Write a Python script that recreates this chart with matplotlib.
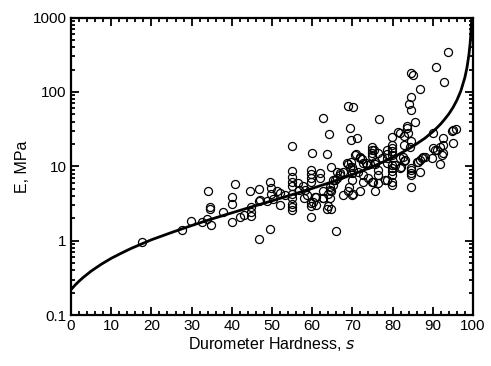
import matplotlib
matplotlib.use("Agg")
import matplotlib.pyplot as plt
from matplotlib.ticker import FixedLocator, FixedFormatter, MultipleLocator, LogLocator

plt.rcParams['font.family'] = ['Liberation Sans', 'DejaVu Sans']

hard = [17.7, 27.7, 29.9, 32.7, 33.8, 34.2, 34.7, 34.7, 34.8, 37.8, 40.0, 40.0, 40.7, 40.0, 42.0, 43.0,
        44.6, 44.8, 44.8, 44.8, 46.8, 46.8, 46.8, 48.7, 49.5, 49.8, 49.8, 49.5, 47.0, 50.2, 51.2, 52.0,
        52.0, 53.2,
        54.9, 54.9, 54.9, 54.9, 54.9, 54.9, 54.9, 54.9, 54.9, 55.1,
        56.5, 56.6, 57.8, 58.0, 58.2, 58.6,
        59.6, 59.6, 59.6, 59.6, 59.6, 59.6, 59.6, 59.9, 60.3, 60.7, 61.0, 61.0,
        61.9, 61.9, 62.6, 62.7, 62.7, 62.8, 63.6, 63.6,
        64.0, 64.4, 64.0, 64.8, 64.8, 64.3, 64.4, 64.5, 64.7, 65.3, 65.3, 65.7, 65.9, 66.1, 66.9, 66.9, 66.1,
        67.7, 67.7, 68.6, 69.0, 69.2, 69.4, 69.0, 69.8, 70.0, 70.0, 70.0, 69.6, 69.0, 70.2, 69.4, 69.6,
        71.2, 70.2, 70.2, 70.6, 70.9,
        71.9, 71.9, 71.9, 71.5, 72.3, 72.7, 72.7, 72.7, 73.6, 73.5, 74.0, 74.4,
        74.8, 74.8, 74.8, 74.8, 74.8, 75.2, 75.6, 75.6, 75.6, 75.5, 76.4, 76.4, 76.4, 76.4, 76.7,
        77.3, 78.1, 78.5, 78.5, 78.5, 78.5, 78.5,
        79.8, 79.8, 79.8, 79.8, 79.8, 79.8, 79.8, 79.8, 79.8, 79.8, 79.8,
        80.5, 81.4, 81.8, 81.8, 82.0, 82.8, 82.8, 82.8, 83.0, 83.7, 81.8, 82.7, 83.9, 83.5,
        84.7, 84.7, 84.7, 84.7, 84.7, 84.7, 84.7, 84.7, 84.2, 84.3, 84.5, 85.1, 85.6, 86.0, 86.8,
        86.8, 86.8, 87.6, 86.4, 87.2, 88.0,
        89.7, 90.0, 90.0, 90.5, 90.8, 91.0, 91.8, 91.8, 92.2, 92.6, 92.6, 92.7, 93.9, 95.0, 95.8,
        95.0, 94.7, 92.6]
modulus = [0.95, 1.39, 1.86, 1.77, 1.98, 4.65, 2.87, 2.64, 1.61, 2.41, 3.86, 3.14, 5.78, 1.80, 2.06, 2.24,
           4.7, 2.86, 2.41, 2.13, 1.05, 4.9, 3.45, 3.45, 6.2, 5.1, 4.2, 1.42, 3.5, 3.6, 4.6, 4.4,
           3.0, 4.1,
           8.6, 7.3, 6.2, 5.5, 4.3, 3.7, 3.1, 2.8, 2.6, 18.6,
           5.9, 4.8, 5.4, 3.8, 4.8, 4.1,
           8.9, 7.9, 6.9, 6.2, 3.2, 2.9, 2.1, 15.0, 3.35, 3.9, 3.0, 3.9,
           8.2, 6.9, 3.7, 3.8, 4.6, 45.0, 14.5, 2.7,
           4.3, 3.7, 2.9, 2.7, 9.9, 26.9, 4.8, 5.2, 4.7, 5.6, 6.5, 6.5, 1.35, 8.5, 8.2, 7.7, 6.9,
           4.1, 8.5, 11.1, 4.6, 5.3, 9.9, 10.8, 4.1, 6.5, 8.2, 9.9, 11.5, 65.0, 62.0, 32.4, 22.6,
           24.0, 8.9, 4.3, 14.2, 14.7,
           4.7, 12.9, 13.5, 8.5, 12.4, 6.2, 7.7, 11.1, 10.4, 11.0, 6.9, 10.6,
           18.2, 16.8, 15.2, 13.6, 6.2, 6.2, 4.6, 11.6, 10.8, 16.5, 15.0, 7.7, 8.9, 5.9, 43.6,
           12.9, 6.5, 6.5, 11.1, 16.5, 14.5, 13.0,
           19.3, 17.5, 15.9, 14.2, 10.4, 9.6, 8.7, 7.7, 6.2, 5.6, 25.0,
           10.5, 29.2, 9.6, 12.9, 9.9, 25.7, 19.3, 11.9, 12.2, 34.5, 28.0, 13.5, 28.0, 33.0,
           8.9, 8.2, 7.7, 5.3, 9.6, 21.9, 57.0, 84.5, 68.7, 18.2, 178.0, 169.0, 39.0, 11.5, 12.2,
           8.3, 108.0, 13.5, 11.5, 12.9, 13.5,
           12.9, 28.3, 17.5, 16.5, 218.0, 16.6, 10.8, 18.2, 14.2, 24.2, 19.3, 136.0, 347.0, 30.7, 31.4,
           20.9, 30.0, 15.0]

# model curve, values
curve_s = [0, 1, 2, 3, 5, 7.5, 10, 12.5, 15, 20, 25, 30, 35, 40, 45, 50, 55, 60, 65, 70, 75, 80,
           82.5, 85, 88, 90, 91, 92, 93, 94, 95, 96, 97, 98, 98.5, 99, 99.3, 99.45, 99.6, 99.72]
curve_E = [0.22, 0.253, 0.286, 0.32, 0.39, 0.482, 0.58, 0.68, 0.79, 1.03, 1.29, 1.60, 1.96, 2.37,
           2.86, 3.44, 4.16, 5.05, 6.2, 7.74, 9.9, 13.1, 15.5, 18.5, 23.8, 29.2, 32.9, 37.3, 43.2,
           50.7, 61.4, 77.5, 104, 158, 212, 319, 457, 580, 802, 1100]

y_ticks = [0.1, 1, 10, 100, 1000]
y_labels = ['0.1', '1', '10', '100', '1000']

fig = plt.figure(figsize=(4.91, 3.66), dpi=100)
ax = fig.add_axes([0.1446, 0.139, 0.8187, 0.813])

ax.plot(hard, modulus, 'o', mfc='none', mec='black', ms=5.8, mew=0.9)
ax.plot(curve_s, curve_E, '-', color='black', lw=2.0)

ax.set_yscale('log')
ax.set_xlim(0, 100)
ax.set_ylim(0.1, 1000)
ax.yaxis.set_major_locator(FixedLocator(y_ticks))
ax.yaxis.set_major_formatter(FixedFormatter(y_labels))
ax.yaxis.set_minor_locator(LogLocator(base=10, subs=range(2, 10)))
ax.xaxis.set_major_locator(MultipleLocator(10))
ax.xaxis.set_minor_locator(MultipleLocator(2))

ax.tick_params(which='both', direction='in', top=True, right=True, labelsize=11, width=1.3)
ax.tick_params(which='major', length=6, pad=3)
ax.tick_params(which='minor', length=3)
for sp in ax.spines.values():
    sp.set_linewidth(1.6)

ax.set_xlabel('Durometer Hardness, $\\it{s}$', fontsize=11.5, labelpad=1)
ax.set_ylabel('E, MPa', fontsize=11.5, labelpad=2)

fig.savefig('out.png', dpi=100)
